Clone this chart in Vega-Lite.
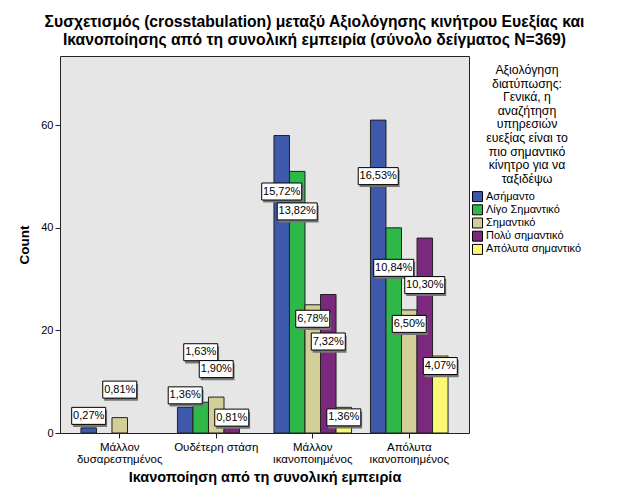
{
  "$schema": "https://vega.github.io/schema/vega-lite/v6.json",
  "width": 409,
  "height": 377,
  "autosize": {"type": "none"},
  "padding": {"left": 60, "top": 56, "right": 160, "bottom": 71},
  "background": "white",
  "title": {
    "text": ["Συσχετισμός (crosstabulation) μεταξύ Αξιολόγησης κινήτρου Ευεξίας και", "Ικανοποίησης από τη συνολική εμπειρία (σύνολο δείγματος N=369)"],
    "font": "Liberation Sans", "fontSize": 15.7, "fontWeight": "bold", "color": "black",
    "anchor": "middle", "dx": 50, "offset": 7, "lineHeight": 18
  },
  "config": {
    "font": "Liberation Sans",
    "view": {"fill": "#e6e6e6", "stroke": "#222222", "strokeWidth": 1}
  },
  "data": {
    "values": [
      {"sat": "Μάλλον δυσαρεστημένος", "imp": "Ασήμαντο", "count": 1, "pct": "0,27%"},
      {"sat": "Μάλλον δυσαρεστημένος", "imp": "Σημαντικό", "count": 3, "pct": "0,81%"},
      {"sat": "Ουδέτερη στάση", "imp": "Ασήμαντο", "count": 5, "pct": "1,36%"},
      {"sat": "Ουδέτερη στάση", "imp": "Λίγο Σημαντικό", "count": 6, "pct": "1,63%"},
      {"sat": "Ουδέτερη στάση", "imp": "Σημαντικό", "count": 7, "pct": "1,90%"},
      {"sat": "Ουδέτερη στάση", "imp": "Πολύ σημαντικό", "count": 3, "pct": "0,81%"},
      {"sat": "Μάλλον ικανοποιημένος", "imp": "Ασήμαντο", "count": 58, "pct": "15,72%"},
      {"sat": "Μάλλον ικανοποιημένος", "imp": "Λίγο Σημαντικό", "count": 51, "pct": "13,82%"},
      {"sat": "Μάλλον ικανοποιημένος", "imp": "Σημαντικό", "count": 25, "pct": "6,78%"},
      {"sat": "Μάλλον ικανοποιημένος", "imp": "Πολύ σημαντικό", "count": 27, "pct": "7,32%"},
      {"sat": "Μάλλον ικανοποιημένος", "imp": "Απόλυτα σημαντικό", "count": 5, "pct": "1,36%"},
      {"sat": "Απόλυτα ικανοποιημένος", "imp": "Ασήμαντο", "count": 61, "pct": "16,53%"},
      {"sat": "Απόλυτα ικανοποιημένος", "imp": "Λίγο Σημαντικό", "count": 40, "pct": "10,84%"},
      {"sat": "Απόλυτα ικανοποιημένος", "imp": "Σημαντικό", "count": 24, "pct": "6,50%"},
      {"sat": "Απόλυτα ικανοποιημένος", "imp": "Πολύ σημαντικό", "count": 38, "pct": "10,30%"},
      {"sat": "Απόλυτα ικανοποιημένος", "imp": "Απόλυτα σημαντικό", "count": 15, "pct": "4,07%"}
    ]
  },
  "encoding": {
    "x": {
      "field": "sat", "type": "nominal",
      "sort": ["Μάλλον δυσαρεστημένος", "Ουδέτερη στάση", "Μάλλον ικανοποιημένος", "Απόλυτα ικανοποιημένος"],
      "scale": {"paddingInner": 0.196, "paddingOuter": 0.217},
      "axis": {
        "title": "Ικανοποίηση από τη συνολική εμπειρία",
        "titleFontSize": 14.5, "titleFontWeight": "bold", "titleColor": "black", "titlePadding": 5,
        "labelAngle": 0, "labelFontSize": 11.5, "labelColor": "black", "labelLineHeight": 12.5,
        "labelExpr": "datum.value === 'Ουδέτερη στάση' ? datum.value : split(datum.value, ' ')",
        "labelPadding": 3, "labelLimit": 200,
        "domain": false, "ticks": true, "tickSize": 5, "tickColor": "#222222"
      }
    },
    "xOffset": {
      "field": "imp", "type": "nominal",
      "scale": {"domain": ["Ασήμαντο", "Λίγο Σημαντικό", "Σημαντικό", "Πολύ σημαντικό", "Απόλυτα σημαντικό"], "paddingInner": 0, "paddingOuter": 0}
    },
    "y": {
      "field": "count", "type": "quantitative",
      "scale": {"domain": [0, 73.5], "nice": false, "zero": true},
      "axis": {
        "title": "Count", "titleFontSize": 13.5, "titleFontWeight": "bold", "titleColor": "black", "titlePadding": 9,
        "values": [0, 20, 40, 60], "grid": false, "domain": false,
        "ticks": true, "tickSize": 5, "tickColor": "#222222",
        "labelFontSize": 11, "labelColor": "black", "labelPadding": 2
      }
    }
  },
  "layer": [
    {
      "mark": {"type": "bar", "stroke": "#222222", "strokeWidth": 1},
      "encoding": {
        "color": {
          "field": "imp", "type": "nominal",
          "scale": {
            "domain": ["Ασήμαντο", "Λίγο Σημαντικό", "Σημαντικό", "Πολύ σημαντικό", "Απόλυτα σημαντικό"],
            "range": ["#3e58ac", "#2eb848", "#d3ce97", "#7c287d", "#fbf873"]
          },
          "legend": {
            "orient": "none", "legendX": 412, "legendY": 8,
            "title": ["Αξιολόγηση", "διατύπωσης:", "Γενικά, η", "αναζήτηση", "υπηρεσιών", "ευεξίας είναι το", "πιο σημαντικό", "κίνητρο για να", "ταξιδέψω"],
            "titleFontSize": 12.3, "titleFontWeight": "normal", "titleColor": "black",
            "titleAlign": "center", "titleAnchor": "middle", "titleLineHeight": 13.6,
            "titlePadding": 6, "titleLimit": 300,
            "labelFontSize": 11, "labelColor": "black", "labelLimit": 200, "labelOffset": 3,
            "symbolType": "square", "symbolSize": 100, "symbolStrokeColor": "black",
            "symbolStrokeWidth": 1, "symbolOpacity": 1,
            "rowPadding": -1.8, "padding": 0,
            "encode": {"title": {"update": {"lineHeight": {"value": 13.6}}}}
          }
        }
      }
    },
    {
      "transform": [{"filter": "datum.count < 20"}],
      "mark": {
        "type": "point", "filled": true, "fill": "#777777", "strokeWidth": 0, "opacity": 1,
        "shape": "M-0.92,-0.4H1.08V0.6H-0.92Z", "size": 1156,
        "yOffset": {"expr": "(datum.imp === 'Ασήμαντο' ? -12 : datum.imp === 'Λίγο Σημαντικό' ? -50 : datum.imp === 'Σημαντικό' ? -28 : datum.imp === 'Πολύ σημαντικό' ? 0 : 10) + 1"}
      },
      "encoding": {}
    },
    {
      "transform": [{"filter": "datum.count < 20"}],
      "mark": {
        "type": "point", "filled": true, "fill": "white", "stroke": "black", "strokeWidth": 1, "opacity": 1,
        "shape": "M-1,-0.5H1V0.5H-1Z", "size": 1156,
        "yOffset": {"expr": "datum.imp === 'Ασήμαντο' ? -12 : datum.imp === 'Λίγο Σημαντικό' ? -50 : datum.imp === 'Σημαντικό' ? -28 : datum.imp === 'Πολύ σημαντικό' ? 0 : 10"}
      },
      "encoding": {}
    },
    {
      "transform": [{"filter": "datum.count < 20"}],
      "mark": {
        "type": "text", "fontSize": 11, "color": "black", "baseline": "middle", "align": "center",
        "yOffset": {"expr": "datum.imp === 'Ασήμαντο' ? -12 : datum.imp === 'Λίγο Σημαντικό' ? -50 : datum.imp === 'Σημαντικό' ? -28 : datum.imp === 'Πολύ σημαντικό' ? 0 : 10"}
      },
      "encoding": {"text": {"field": "pct"}}
    },
    {
      "transform": [{"filter": "datum.count >= 20"}],
      "mark": {
        "type": "point", "filled": true, "fill": "#777777", "strokeWidth": 0, "opacity": 1,
        "yOffset": {"expr": "(datum.imp === 'Ασήμαντο' ? 56 : datum.imp === 'Λίγο Σημαντικό' ? 40 : datum.imp === 'Σημαντικό' ? 14 : 47) + 1"}
      },
      "encoding": {
        "shape": {"condition": {"test": "datum.count >= 37", "value": "M-0.93,-0.35H1.07V0.5H-0.93Z"}, "value": "M-0.92,-0.4H1.08V0.6H-0.92Z"},
        "size": {"condition": {"test": "datum.count >= 37", "value": 1600}, "value": 1156}
      }
    },
    {
      "transform": [{"filter": "datum.count >= 20"}],
      "mark": {
        "type": "point", "filled": true, "fill": "white", "stroke": "black", "strokeWidth": 1, "opacity": 1,
        "yOffset": {"expr": "datum.imp === 'Ασήμαντο' ? 56 : datum.imp === 'Λίγο Σημαντικό' ? 40 : datum.imp === 'Σημαντικό' ? 14 : 47"}
      },
      "encoding": {
        "shape": {"condition": {"test": "datum.count >= 37", "value": "M-1,-0.425H1V0.425H-1Z"}, "value": "M-1,-0.5H1V0.5H-1Z"},
        "size": {"condition": {"test": "datum.count >= 37", "value": 1600}, "value": 1156}
      }
    },
    {
      "transform": [{"filter": "datum.count >= 20"}],
      "mark": {
        "type": "text", "fontSize": 11, "color": "black", "baseline": "middle", "align": "center",
        "yOffset": {"expr": "datum.imp === 'Ασήμαντο' ? 56 : datum.imp === 'Λίγο Σημαντικό' ? 40 : datum.imp === 'Σημαντικό' ? 14 : 47"}
      },
      "encoding": {"text": {"field": "pct"}}
    }
  ]
}
